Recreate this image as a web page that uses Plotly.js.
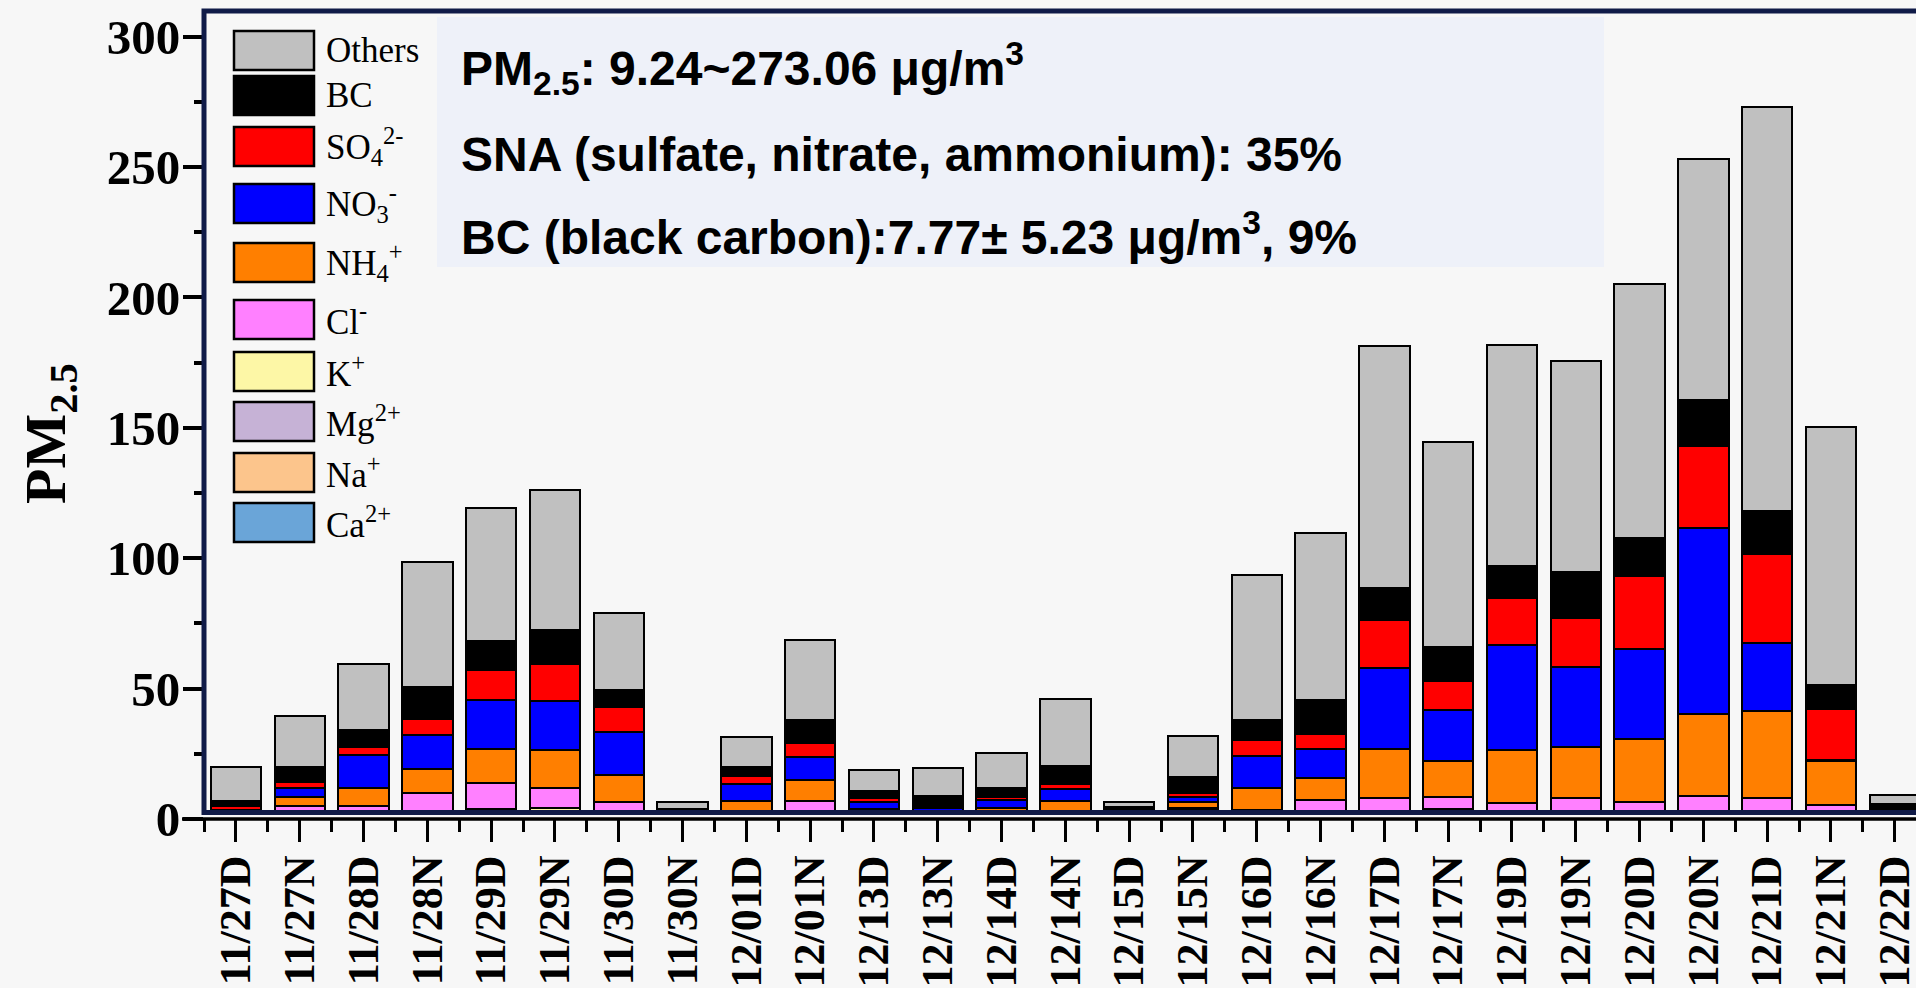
<!DOCTYPE html>
<html>
<head>
<meta charset="utf-8">
<script src="https://cdn.plot.ly/plotly-3.0.1.min.js"></script>
<style>
  html, body { margin: 0; padding: 0; background: #f7f7f7; overflow: hidden; }
  #chart { width: 1916px; height: 988px; }
</style>
</head>
<body>
<div id="chart"></div>
<script>
// Sampling periods (D = daytime, N = night-time)
const categories = ['11/27D','11/27N','11/28D','11/28N','11/29D','11/29N','11/30D','11/30N',
  '12/01D','12/01N','12/13D','12/13N','12/14D','12/14N','12/15D','12/15N','12/16D','12/16N',
  '12/17D','12/17N','12/19D','12/19N','12/20D','12/20N','12/21D','12/21N','12/22D'];

// PM2.5 components, ug/m3, stacked bottom to top
const ca2     = [0.5,0.6,0.6,0.7,0.8,0.8,0.7,0.5,0.7,0.6,0.8,0.7,0.7,0.7,0.5,0.9,0.8,0.6,0.6,0.8,0.6,0.6,0.6,0.7,0.7,0.6,0.5];
const na1     = [0.4,0.5,0.4,0.5,0.6,0.9,0.5,0.4,0.5,0.5,0.5,0.4,0.5,0.5,0.4,0.9,0.5,0.5,0.5,0.7,0.5,0.5,0.5,0.5,0.5,0.5,0.4];
const mg2     = [0.1,0.2,0.2,0.2,1.2,0.5,0.2,0.1,0.2,0.2,0.2,0.2,0.2,0.2,0.1,2.0,0.2,0.2,0.2,0.6,0.2,0.2,0.2,0.2,0.2,0.2,0.1];
const k1      = [1.0,1.1,1.2,1.1,1.4,2.1,1.2,0.8,1.2,1.2,1.1,1.1,1.1,1.2,0.9,0.2,1.3,1.2,1.3,1.9,1.3,1.3,1.3,1.3,1.3,1.3,1.2];
const cl1     = [0.4,2.4,2.5,7.4,9.8,7.6,3.8,0.4,0.6,4.5,0.6,0.3,0.4,0.6,0.3,0.2,0.6,4.8,5.3,4.6,3.7,5.6,4.0,6.3,5.5,2.6,0.3];
const nh4     = [0.6,3.7,7.1,9.3,13.0,14.5,10.4,0.4,3.8,8.1,0.8,0.5,1.2,3.6,0.3,2.4,8.3,8.6,18.9,13.5,20.1,19.5,24.2,31.3,33.1,17.2,0.4];
const no3     = [0.6,3.2,12.6,13.2,19.0,18.9,16.7,0.4,6.3,8.7,2.6,1.2,3.3,4.7,0.3,2.0,12.4,10.9,31.2,19.8,40.3,30.4,34.3,71.3,26.3,0.3,0.4];
const so4     = [1.5,2.3,3.1,5.9,11.4,14.1,9.5,0.3,3.2,5.4,1.4,0.4,1.2,1.8,0.3,1.5,6.2,5.8,18.2,11.2,18.2,18.8,28.0,31.5,33.9,19.3,0.7];
const bc      = [1.9,6.1,6.4,12.4,11.1,12.9,6.3,0.5,3.6,8.9,2.7,4.1,3.1,6.9,1.5,6.0,7.6,13.2,12.3,13.0,12.2,17.9,14.8,17.7,16.7,9.5,1.7];
const others  = [13.1,19.5,25.3,47.9,51.1,53.8,29.5,2.6,11.2,30.6,8.2,10.5,13.5,25.8,1.8,15.8,55.7,63.9,92.7,78.5,84.8,80.9,97.1,92.2,154.86,98.7,3.54];

const seriesValues = [ca2, na1, mg2, k1, cl1, nh4, no3, so4, bc, others];
const seriesNames  = ['Ca2+','Na+','Mg2+','K+','Cl-','NH4+','NO3-','SO42-','BC','Others'];
const seriesLabels = ['Ca<sup>2+</sup>','Na<sup>+</sup>','Mg<sup>2+</sup>','K<sup>+</sup>','Cl<sup>-</sup>',
  'NH<sub>4</sub><sup>+</sup>','NO<sub>3</sub><sup>-</sup>','SO<sub>4</sub><sup>2-</sup>','BC','Others'];
const seriesColors = ['#6aa5d8','#fcc58c','#c6b2d6','#fdf7a6','#ff80ff','#ff7f00','#0000ff','#ff0000','#000000','#c0c0c0'];

const yTickVals = [0, 50, 100, 150, 200, 250, 300];

const infoLines = [
  'PM<sub>2.5</sub>: 9.24~273.06 \u03bcg/m<sup>3</sup>',
  'SNA (sulfate, nitrate, ammonium): 35%',
  'BC (black carbon):7.77\u00b1 5.23 \u03bcg/m<sup>3</sup>, 9%'
];

// ---- page geometry (pixels) ----
const W = 1916, H = 988;
const plotL = 204, plotR = 1916, plotT = 11, plotB = 819;
const px2x = p => (p - plotL) / (plotR - plotL);
const px2y = p => (plotB - p) / (plotB - plotT);
const BG = '#f7f7f7';
const NAVY = '#101b48';

const idx = categories.map((_, i) => i);

const traces = seriesValues.map((vals, i) => ({
  type: 'bar',
  x: idx,
  y: vals,
  name: seriesNames[i],
  width: 0.79,
  marker: { color: seriesColors[i], line: { color: '#000000', width: 2 } },
  showlegend: false,
  hoverinfo: 'skip'
}));

const shapes = [];
const annotations = [];

// light gap between the frame and the axis line
shapes.push({ type: 'rect', xref: 'paper', yref: 'paper', layer: 'above',
  x0: 0, x1: 1.05, y0: 0, y1: px2y(813), fillcolor: BG, line: { width: 0 } });
// black x axis line
shapes.push({ type: 'line', xref: 'paper', yref: 'paper', layer: 'above',
  x0: px2x(182), x1: 1.05, y0: 0, y1: 0, line: { color: '#000', width: 3.5 } });
// navy frame
shapes.push({ type: 'rect', xref: 'paper', yref: 'paper', layer: 'above',
  x0: 0, x1: 1.05, y0: px2y(812.5), y1: 1, fillcolor: 'rgba(0,0,0,0)', line: { color: NAVY, width: 5 } });

// info box
shapes.push({ type: 'rect', xref: 'paper', yref: 'paper', layer: 'above',
  x0: px2x(437), x1: px2x(1604), y0: px2y(267), y1: px2y(17), fillcolor: '#eef1f9', line: { width: 0 } });
const infoY = [69, 154, 234];
infoLines.forEach((t, i) => annotations.push({
  text: t, xref: 'paper', yref: 'paper', x: px2x(459), y: px2y(infoY[i]),
  xanchor: 'left', yanchor: 'middle', showarrow: false,
  font: { family: 'Liberation Sans, Arial, sans-serif', size: 48, color: '#000', weight: 'bold' }
}));

// legend: swatches top to bottom (reverse of stacking order)
const swTop = [31, 76, 127, 184, 243, 300, 352, 402, 453, 503];
const swH = 39;
for (let j = 0; j < seriesNames.length; j++) {
  const s = seriesNames.length - 1 - j;
  shapes.push({ type: 'rect', xref: 'paper', yref: 'paper', layer: 'above',
    x0: px2x(234), x1: px2x(314), y0: px2y(swTop[j] + swH), y1: px2y(swTop[j]),
    fillcolor: seriesColors[s], line: { color: '#000', width: 2.5 } });
  annotations.push({ text: seriesLabels[s], xref: 'paper', yref: 'paper',
    x: px2x(324), y: px2y(swTop[j] + swH / 2), xanchor: 'left', yanchor: 'middle', showarrow: false,
    font: { family: 'Liberation Serif, Times New Roman, serif', size: 35, color: '#000' } });
}

// y axis title
annotations.push({ text: 'PM<sub>2.5</sub>', xref: 'paper', yref: 'paper',
  x: px2x(49), y: px2y(434), xanchor: 'center', yanchor: 'middle', textangle: -90, showarrow: false,
  font: { family: 'Liberation Serif, Times New Roman, serif', size: 58, color: '#000', weight: 'bold' } });

const layout = {
  width: W, height: H,
  margin: { l: plotL, r: W - plotR, t: plotT, b: H - plotB, pad: 0 },
  paper_bgcolor: BG, plot_bgcolor: BG,
  barmode: 'stack',
  showlegend: false,
  xaxis: {
    type: 'linear', range: [-0.5, -0.5 + (plotR - plotL) / 63.8],
    tickmode: 'array', tickvals: idx, ticktext: categories, tickangle: -90,
    ticks: 'outside', ticklen: 22, tickwidth: 3, tickcolor: '#000',
    ticklabelstandoff: -4, ticklabeloverflow: 'allow',
    minor: { tick0: 0.5, dtick: 1, ticks: 'outside', ticklen: 12, tickwidth: 3, tickcolor: '#000', showgrid: false },
    showline: false, showgrid: false, zeroline: false,
    tickfont: { family: 'Liberation Serif, Times New Roman, serif', size: 44, color: '#000', weight: 'bold' }
  },
  yaxis: {
    range: [0, (plotB - plotT) / 2.608],
    tickmode: 'array', tickvals: yTickVals,
    ticks: 'outside', ticklen: 20, tickwidth: 4, tickcolor: '#000',
    ticklabelstandoff: -7,
    minor: { tick0: 0, dtick: 25, ticks: 'outside', ticklen: 9, tickwidth: 4, tickcolor: '#000', showgrid: false },
    showline: false, showgrid: false, zeroline: false,
    tickfont: { family: 'Liberation Serif, Times New Roman, serif', size: 49, color: '#000', weight: 'bold' }
  },
  shapes: shapes,
  annotations: annotations
};

Plotly.newPlot('chart', traces, layout, { staticPlot: true, displayModeBar: false });
</script>
</body>
</html>
